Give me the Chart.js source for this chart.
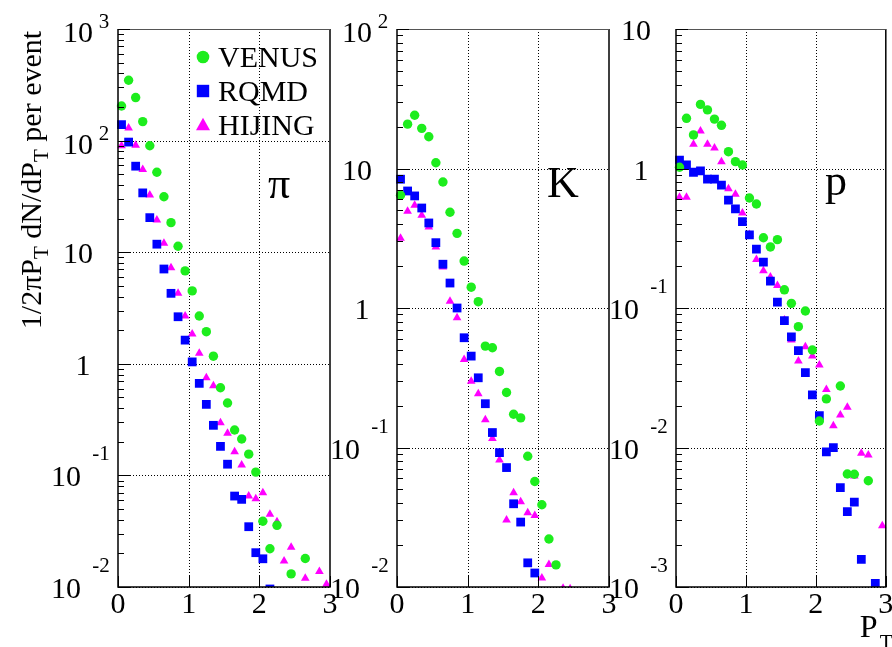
<!DOCTYPE html>
<html>
<head>
<meta charset="utf-8">
<script src="https://cdn.jsdelivr.net/npm/chart.js@4/dist/chart.umd.min.js"></script>
<style>
  html, body { margin: 0; padding: 0; background: #fff; }
  #wrap { position: relative; width: 892px; height: 647px; overflow: hidden; background: #fff; }
  canvas { position: absolute; top: 0; }
</style>
</head>
<body>
<div id="wrap">
  <canvas id="cPi" width="340" height="647" style="left:0px;width:340px;height:647px"></canvas>
  <canvas id="cK" width="290" height="647" style="left:330px;width:290px;height:647px"></canvas>
  <canvas id="cP" width="287" height="647" style="left:605px;width:287px;height:647px"></canvas>
</div>
<script>
// Transverse-momentum bin centres (GeV/c)
const PT = [0.05, 0.15, 0.25, 0.35, 0.45, 0.55, 0.65, 0.75, 0.85, 0.95,
            1.05, 1.15, 1.25, 1.35, 1.45, 1.55, 1.65, 1.75, 1.85, 1.95,
            2.05, 2.15, 2.25, 2.35, 2.45, 2.55, 2.65, 2.75, 2.85, 2.95];

// Axis tick labels
const X_TICKS = [0, 1, 2, 3];
const PI_DECADES = [-2, 3];
const K_DECADES = [-2, 2];
const P_DECADES = [-3, 1];

// Model names
const MODELS = ['VENUS', 'RQMD', 'HIJING'];

// Pions: 1/2πPT dN/dPT per event
const PI_VENUS = [204, 347, 243, 148, 90, 52, 31.4, 18.4, 11.3, 6.8,
                  4.5, 2.68, 1.94, 1.17, 0.61, 0.445, 0.255, 0.212, 0.155, 0.107,
                  0.0388, 0.022, 0.0357, null, 0.0131, null, 0.018, null, null, null];
const PI_RQMD = [139, 97, 59, 34, 20.4, 11.8, 7.07, 4.28, 2.64, 1.63,
                 1.04, 0.668, 0.433, 0.281, 0.182, 0.126, 0.0653, 0.061, 0.0347, 0.0203,
                 0.0179, 0.0096, null, null, null, null, null, null, null, null];
const PI_HIJING = [90, 130, 91, 55, 32.6, 19.4, 12, 7.26, 4.28, 2.68,
                   1.85, 1.24, 0.75, 0.636, 0.297, 0.238, 0.163, 0.124, 0.0653, 0.0618,
                   0.07, 0.0448, 0.0385, 0.0171, 0.0227, null, 0.012, null, 0.0138, 0.0106];

// Kaons
const K_VENUS = [6.43, 20.8, 24.1, 19.4, 16.9, 11, 8.0, 4.86, 3.43, 2.17,
                 1.41, 1.11, 0.533, 0.519, 0.351, 0.248, 0.173, 0.163, 0.0865, 0.0571,
                 0.0389, 0.0221, 0.0144, null, null, null, null, null, null, null];
const K_RQMD = [8.38, 6.9, 6.36, 5.21, 4.07, 2.94, 2.06, 1.51, 1.0, 0.612,
                0.452, 0.316, 0.206, 0.128, 0.0919, 0.0718, 0.0395, 0.0292, 0.0149, 0.0126,
                null, null, null, null, null, null, null, null, null, null];
const K_HIJING = [3.16, 4.94, 5.45, 4.62, 3.81, 2.74, 1.97, 1.12, 0.851, 0.428,
                  0.299, 0.243, 0.158, 0.116, 0.0814, 0.0302, 0.0474, 0.0409, 0.034, 0.0325,
                  0.0116, 0.0145, null, 0.0098, 0.0097, null, null, null, null, null];

// Protons
const P_VENUS = [1.02, 2.29, 1.74, 2.88, 2.63, 2.26, 2.04, 1.32, 1.12, 1.06,
                 0.615, 0.557, 0.319, 0.274, 0.309, 0.135, 0.108, 0.0735, 0.0951, 0.05,
                 0.0155, 0.0223, null, 0.0276, 0.00646, 0.00643, null, 0.00578, null, null];
const P_RQMD = [1.15, 1.06, 0.94, 0.96, 0.84, 0.84, 0.76, 0.594, 0.513, 0.416,
                0.334, 0.264, 0.213, 0.156, 0.11, 0.0811, 0.0622, 0.0494, 0.0344, 0.0238,
                0.0169, 0.0093, 0.00998, 0.00515, 0.00347, 0.00406, 0.00158, null, 0.00106, null];
const P_HIJING = [0.622, 0.622, 1.49, 1.86, 1.49, 1.40, 1.12, 0.716, 0.653, 0.48,
                  0.337, 0.223, 0.185, 0.167, 0.145, 0.082, 0.059, 0.0417, 0.0528, 0.0453,
                  0.039, 0.0261, 0.0143, 0.0171, 0.0194, 0.00625, 0.00908, 0.00883, null, 0.00275];

const SERIF = '"Liberation Serif", "Times New Roman", serif';
const BIG = '30px ' + SERIF;
const SMALL = '21px ' + SERIF;
const GREEN = '#1ded1d', BLUE = '#0000ff', MAGENTA = '#ff00ff';

function points(vals) {
  return PT.map((x, i) => ({ x: x, y: vals[i] })).filter(p => p.y !== null);
}

function series(label, vals, style, color, radius) {
  return {
    label: label,
    data: points(vals),
    showLine: false,
    pointStyle: style,
    pointRadius: radius,
    pointHoverRadius: radius,
    backgroundColor: color,
    borderColor: color,
    borderWidth: 0,
    clip: { left: 6, right: 6, top: 6, bottom: 0 }
  };
}

function drawYLabel(ctx, left, py, n) {
  ctx.textAlign = 'center';
  ctx.textBaseline = 'alphabetic';
  ctx.font = BIG;
  if (n === 0) {
    ctx.fillText('1', left - 35, py + 11);
  } else if (n === 1) {
    ctx.fillText('10', left - 40, py + 11);
  } else if (n > 1) {
    ctx.fillText('10', left - 40, py + 13);
    ctx.font = SMALL;
    ctx.fillText(String(n), left - 14, py - 1);
  } else {
    ctx.fillText('10', left - 52, py + 11);
    ctx.font = SMALL;
    ctx.fillText(String(n), left - 17, py - 15);
  }
}

function marker(ctx, style, x, y, r, color) {
  ctx.fillStyle = color;
  ctx.beginPath();
  if (style === 'circle') {
    ctx.arc(x, y, r, 0, Math.PI * 2);
  } else if (style === 'rect') {
    ctx.rect(x - r, y - r, 2 * r, 2 * r);
  } else {
    ctx.moveTo(x, y - r * 1.05);
    ctx.lineTo(x + r, y + r * 0.75);
    ctx.lineTo(x - r, y + r * 0.75);
    ctx.closePath();
  }
  ctx.fill();
}

// Frame, dotted grid, log ticks and labels in the style of a ROOT canvas
const rootAxes = {
  id: 'rootAxes',
  beforeDatasetsDraw(chart, args, o) {
    const ctx = chart.ctx, a = chart.chartArea;
    const xs = chart.scales.x, ys = chart.scales.y;
    ctx.save();
    ctx.strokeStyle = '#000';
    ctx.lineWidth = 1;
    ctx.setLineDash([1, 2]);
    for (const t of X_TICKS) {
      const px = Math.round(xs.getPixelForValue(t)) + 0.5;
      if (t <= xs.min || t >= xs.max) continue;
      ctx.beginPath(); ctx.moveTo(px, a.top); ctx.lineTo(px, a.bottom); ctx.stroke();
    }
    for (let n = o.decades[0]; n <= o.decades[1]; n++) {
      const py = Math.round(ys.getPixelForValue(Math.pow(10, n))) + 0.5;
      ctx.beginPath(); ctx.moveTo(a.left, py); ctx.lineTo(a.right, py); ctx.stroke();
    }
    ctx.restore();
  },
  afterDatasetsDraw(chart, args, o) {
    const ctx = chart.ctx, a = chart.chartArea;
    const xs = chart.scales.x, ys = chart.scales.y;
    ctx.save();
    // frame
    ctx.strokeStyle = '#000';
    ctx.lineWidth = 1.5;
    ctx.beginPath();
    ctx.moveTo(a.left, a.top); ctx.lineTo(a.left, a.bottom);
    ctx.lineTo(a.right, a.bottom); ctx.lineTo(a.right, a.top);
    ctx.stroke();
    ctx.strokeStyle = '#555';
    ctx.lineWidth = 1;
    ctx.beginPath(); ctx.moveTo(a.left, a.top + 0.5); ctx.lineTo(a.right, a.top + 0.5); ctx.stroke();

    // left-axis ticks: decades and 2..9 sub-ticks
    ctx.strokeStyle = '#000';
    ctx.lineWidth = 1;
    for (let n = o.decades[0]; n <= o.decades[1]; n++) {
      for (let m = 1; m <= 9; m++) {
        const v = m * Math.pow(10, n);
        if (v > ys.max * 1.0001) break;
        const py = Math.round(ys.getPixelForValue(v)) + 0.5;
        const len = m === 1 ? 12 : 6;
        ctx.beginPath(); ctx.moveTo(a.left, py); ctx.lineTo(a.left + len, py); ctx.stroke();
      }
    }
    // bottom-axis ticks
    for (const t of X_TICKS) {
      const px = Math.round(xs.getPixelForValue(t)) + 0.5;
      ctx.beginPath(); ctx.moveTo(px, a.bottom); ctx.lineTo(px, a.bottom - 11); ctx.stroke();
    }

    // tick labels
    ctx.fillStyle = '#000';
    ctx.font = BIG;
    ctx.textAlign = 'center';
    ctx.textBaseline = 'alphabetic';
    for (const t of X_TICKS) {
      ctx.fillText(String(t), xs.getPixelForValue(t), a.bottom + 26);
    }
    for (let n = o.decades[0]; n <= o.decades[1]; n++) {
      drawYLabel(ctx, a.left, ys.getPixelForValue(Math.pow(10, n)), n);
    }

    // particle symbol
    ctx.font = '44px ' + SERIF;
    ctx.textAlign = 'left';
    ctx.fillText(o.symbol, a.left + o.symbolDx, o.symbolY);

    if (o.legend) {
      const rows = [[MODELS[0], 'circle', GREEN, 57, 6.3],
                    [MODELS[1], 'rect', BLUE, 91, 6.2],
                    [MODELS[2], 'triangle', MAGENTA, 125, 7]];
      for (const [name, st, col, y, r] of rows) {
        marker(ctx, st, a.left + 85, y, r, col);
        ctx.fillStyle = '#000';
        ctx.font = BIG;
        ctx.textAlign = 'left';
        ctx.fillText(name, a.left + 100, y + 10);
      }
    }

    if (o.yTitle) {
      const segs = [['1/2\u03c0P', false], ['T', true], [' dN/dP', false], ['T', true], [' per event', false]];
      ctx.translate(41, 180);
      ctx.rotate(-Math.PI / 2);
      let total = 0;
      for (const [t, sub] of segs) { ctx.font = sub ? SMALL : BIG; total += ctx.measureText(t).width; }
      let x = -total / 2;
      ctx.textAlign = 'left';
      for (const [t, sub] of segs) {
        ctx.font = sub ? SMALL : BIG;
        ctx.fillText(t, x, sub ? 7 : 0);
        x += ctx.measureText(t).width;
      }
      ctx.setTransform(1, 0, 0, 1, 0, 0);
    }

    if (o.xTitle) {
      ctx.textAlign = 'left';
      ctx.font = '32px ' + SERIF;
      ctx.fillText('P', a.right - 26, 637);
      ctx.font = SMALL;
      ctx.fillText('T', a.right - 6, 649);
    }
    ctx.restore();
  }
};

function makePanel(id, pad, decades, v, r, h, axesOpts) {
  return new Chart(document.getElementById(id), {
    type: 'scatter',
    data: {
      datasets: [
        series(MODELS[0], v, 'circle', GREEN, 4.7),
        series(MODELS[1], r, 'rect', BLUE, 6.2),
        series(MODELS[2], h, 'triangle', MAGENTA, 5.0)
      ]
    },
    options: {
      responsive: false,
      animation: false,
      events: [],
      layout: { padding: pad },
      scales: {
        x: { type: 'linear', min: X_TICKS[0], max: X_TICKS[X_TICKS.length - 1], display: false },
        y: { type: 'logarithmic', min: Math.pow(10, decades[0]), max: Math.pow(10, decades[1]), display: false }
      },
      plugins: {
        legend: { display: false },
        tooltip: { enabled: false },
        rootAxes: Object.assign({ decades: decades }, axesOpts)
      }
    },
    plugins: [rootAxes]
  });
}

makePanel('cPi', { left: 118, right: 10, top: 29, bottom: 60 }, PI_DECADES,
  PI_VENUS, PI_RQMD, PI_HIJING,
  { symbol: '\u03c0', symbolDx: 150, symbolY: 198, legend: true, yTitle: true, xTitle: false });
makePanel('cK', { left: 67, right: 11, top: 29, bottom: 60 }, K_DECADES,
  K_VENUS, K_RQMD, K_HIJING,
  { symbol: 'K', symbolDx: 150, symbolY: 197, legend: false, yTitle: false, xTitle: false });
makePanel('cP', { left: 71, right: 3, top: 29, bottom: 60 }, P_DECADES,
  P_VENUS, P_RQMD, P_HIJING,
  { symbol: 'p', symbolDx: 149, symbolY: 195, legend: false, yTitle: false, xTitle: true });
</script>
</body>
</html>
